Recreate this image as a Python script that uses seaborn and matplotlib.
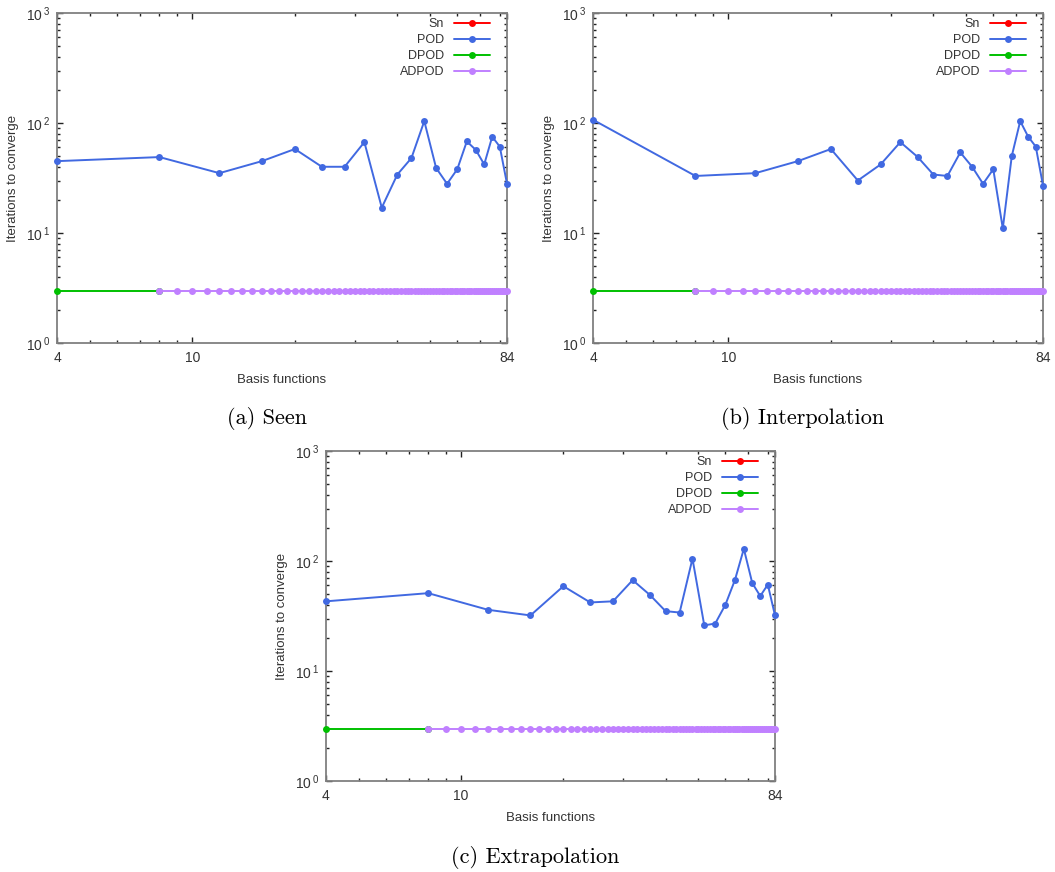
import numpy as np
import pandas as pd
import matplotlib
matplotlib.use("Agg")
import matplotlib.pyplot as plt
import seaborn as sns
from matplotlib.ticker import FixedLocator, FixedFormatter, NullFormatter
from matplotlib.lines import Line2D

# ---------------- data ----------------
pod_basis = [4, 8, 12, 16, 20, 24, 28, 32, 36, 40, 44, 48, 52, 56, 60, 64, 68, 72, 76, 80, 84]
pod_seen = [45, 49, 35, 45, 58, 40, 40, 67, 17, 34, 48, 104, 39, 28, 38, 68, 57, 42, 75, 61, 28]
pod_interp = [107, 33, 35, 45, 58, 30, 42, 67, 49, 34, 33, 54, 40, 28, 38, 11, 50, 104, 75, 61, 27]
pod_extrap = [43, 51, 36, 32, 59, 42, 43, 67, 49, 35, 34, 105, 26, 27, 40, 67, 129, 63, 48, 61, 32]

dpod_basis = [4, 8]
dpod_iters = [3, 3]

adpod_basis = [8, 9, 10, 11, 12, 13, 14, 15, 16, 17, 18, 19, 20, 21, 22, 23, 24, 25, 26, 27,
               28, 29, 30, 31, 32, 33, 34, 35, 36, 37, 38, 39, 40, 41, 42, 43, 44, 45, 46, 47,
               48, 49, 50, 51, 52, 53, 54, 55, 56, 57, 58, 59, 60, 61, 62, 63, 64, 65, 66, 67,
               68, 69, 70, 71, 72, 73, 74, 75, 76, 77, 78, 79, 80, 81, 82, 83, 84]
adpod_iters = [3] * len(adpod_basis)

methods = ["Sn", "POD", "DPOD", "ADPOD"]
colors = {"Sn": "#ff0000", "POD": "#4169e1", "DPOD": "#00c000", "ADPOD": "#c080ff"}

panels = [("(a) Seen", pod_seen), ("(b) Interpolation", pod_interp), ("(c) Extrapolation", pod_extrap)]

xticks = [4, 10, 84]
xtick_labels = ["4", "10", "84"]
yticks = [1, 10, 100, 1000]
ytick_labels = [r"$10^{\,0}$", r"$10^{\,1}$", r"$10^{\,2}$", r"$10^{\,3}$"]

# ---------------- style ----------------
sns.set_style("ticks")
plt.rcParams["font.family"] = ["Liberation Sans", "DejaVu Sans"]
plt.rcParams["mathtext.default"] = "regular"

W, H = 1055, 872
fig = plt.figure(figsize=(W / 100, H / 100), dpi=100)

# axes boxes in pixels: left, top, right, bottom
boxes = [(57, 13, 507, 343), (593, 13, 1043, 343), (326, 451, 775, 781)]
captions_xy = [(267, 419), (803, 419), (535, 857)]

text_col = "#333333"
spine_col = "#808080"

for (title, pod_vals), (l, t, r, b), (cx, cy) in zip(panels, boxes, captions_xy):
    ax = fig.add_axes([l / W, 1 - b / H, (r - l) / W, (b - t) / H])
    df = pd.concat([
        pd.DataFrame({"basis": dpod_basis, "iters": dpod_iters, "method": "DPOD"}),
        pd.DataFrame({"basis": adpod_basis, "iters": adpod_iters, "method": "ADPOD"}),
        pd.DataFrame({"basis": pod_basis, "iters": pod_vals, "method": "POD"}),
    ], ignore_index=True)
    for m in ["DPOD", "ADPOD", "POD"]:
        sub = df[df["method"] == m]
        sns.lineplot(data=sub, x="basis", y="iters", color=colors[m], marker="o",
                     markersize=5, markeredgewidth=0, linewidth=1.4, ax=ax,
                     legend=False, errorbar=None, clip_on=False, zorder=3)
    ax.set_xscale("log")
    ax.set_yscale("log")
    ax.set_xlim(4, 84)
    ax.set_ylim(1, 1000)
    ax.xaxis.set_major_locator(FixedLocator(xticks))
    ax.xaxis.set_major_formatter(FixedFormatter(xtick_labels))
    ax.xaxis.set_minor_locator(FixedLocator([5, 6, 7, 8, 9, 20, 30, 40, 50, 60, 70, 80]))
    ax.xaxis.set_minor_formatter(NullFormatter())
    ax.yaxis.set_major_locator(FixedLocator(yticks))
    ax.yaxis.set_major_formatter(FixedFormatter(ytick_labels))
    ax.yaxis.set_minor_locator(FixedLocator([k * 10 ** e for e in range(3) for k in range(2, 10)]))
    ax.yaxis.set_minor_formatter(NullFormatter())
    ax.tick_params(which="both", direction="in", top=True, right=True, color="#222222",
                   labelcolor=text_col, labelsize=10)
    ax.tick_params(which="major", length=4, width=1)
    ax.tick_params(which="minor", length=2, width=1)
    ax.tick_params(axis="x", pad=6)
    ax.tick_params(axis="y", pad=5)
    for s in ax.spines.values():
        s.set_visible(True)
        s.set_color(spine_col)
        s.set_linewidth(1.3)
    ax.set_xlabel("Basis functions", fontsize=9.5, color=text_col, labelpad=6)
    ax.set_ylabel("Iterations to converge", fontsize=9.5, color=text_col, labelpad=5)

    handles = [Line2D([], [], color=colors[m], marker="o", markersize=5,
                      markeredgewidth=0, linewidth=1.4) for m in methods]
    leg = ax.legend(handles, methods, loc="upper right", bbox_to_anchor=(0.963, 0.985),
                    frameon=False, markerfirst=False, fontsize=9, handlelength=2.9,
                    handletextpad=0.8, labelspacing=0.33, borderaxespad=0, borderpad=0)
    for txt in leg.get_texts():
        txt.set_color(text_col)

    fig.text(cx / W, 1 - cy / H, title, ha="center", va="center", fontsize=16,
             family="cmr10", color="black")

fig.savefig("out.png", dpi=100)
